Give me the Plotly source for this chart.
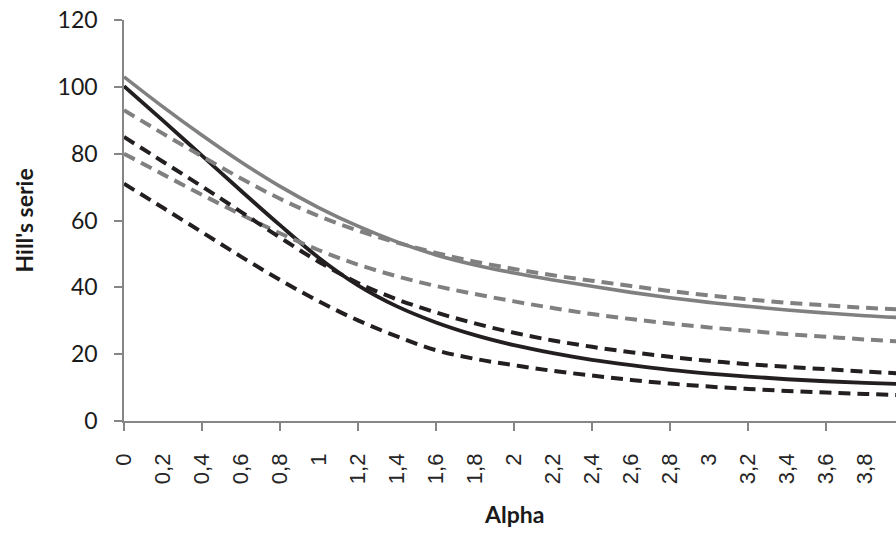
import plotly.graph_objects as go

# ---------------- data ----------------
alpha = [0.0, 0.2, 0.4, 0.6, 0.8, 1.0, 1.2, 1.4, 1.6, 1.8, 2.0,
         2.2, 2.4, 2.6, 2.8, 3.0, 3.2, 3.4, 3.6, 3.8, 4.0]
tick_labels = ["0", "0,2", "0,4", "0,6", "0,8", "1", "1,2", "1,4", "1,6", "1,8", "2",
               "2,2", "2,4", "2,6", "2,8", "3", "3,2", "3,4", "3,6", "3,8", "4"]

gray_solid = [103.0, 94.0, 85.5, 77.5, 70.2, 63.8, 58.3, 53.6, 49.7, 46.7, 44.3,
              42.2, 40.3, 38.5, 36.9, 35.5, 34.3, 33.2, 32.3, 31.5, 30.9]
gray_dash_upper = [93.0, 86.0, 79.2, 72.6, 66.5, 61.3, 57.0, 53.4, 50.3, 47.7, 45.5,
                   43.6, 42.0, 40.4, 38.9, 37.6, 36.4, 35.4, 34.6, 33.9, 33.3]
gray_dash_lower = [80.0, 73.8, 67.7, 61.8, 56.2, 51.1, 46.8, 43.3, 40.4, 38.0, 35.8,
                   33.8, 32.0, 30.5, 29.2, 28.0, 27.0, 26.0, 25.2, 24.4, 23.7]
black_solid = [100.2, 89.9, 79.4, 68.9, 58.6, 48.8, 40.6, 34.3, 29.5, 25.7, 22.7,
               20.3, 18.3, 16.7, 15.3, 14.2, 13.3, 12.5, 11.9, 11.4, 11.0]
black_dash_upper = [85.0, 77.6, 70.2, 62.6, 54.9, 47.6, 41.3, 36.4, 32.5, 29.2, 26.4,
                    24.1, 22.2, 20.6, 19.2, 18.0, 17.0, 16.2, 15.5, 14.8, 14.2]
black_dash_lower = [71.0, 63.8, 56.5, 49.2, 42.2, 35.8, 30.1, 25.3, 21.2, 18.6, 16.7,
                    15.0, 13.6, 12.3, 11.2, 10.3, 9.6, 9.0, 8.5, 8.1, 7.7]

# ---------------- style ----------------
GRAY = "#808080"
BLACK = "#231f20"
AXIS = "#868686"
DASH = "12px,7px"

series = [
    (gray_solid, GRAY, "solid", 3.6),
    (black_solid, BLACK, "solid", 3.8),
    (gray_dash_upper, GRAY, DASH, 4.0),
    (gray_dash_lower, GRAY, DASH, 4.0),
    (black_dash_upper, BLACK, DASH, 4.0),
    (black_dash_lower, BLACK, DASH, 4.0),
]

fig = go.Figure()
for vals, color, dash, lw in series:
    fig.add_trace(go.Scatter(
        x=alpha, y=vals, mode="lines",
        line=dict(color=color, width=lw, dash=dash, shape="spline", smoothing=1.0),
        showlegend=False, hoverinfo="skip"))

W, H = 896, 533
L, R, T, B = 124, 0, 20, 112
plot_w = W - L - R
px_per_unit = 195.0  # 39 px per 0.2 step

fig.update_layout(
    width=W, height=H,
    margin=dict(l=L, r=R, t=T, b=B),
    plot_bgcolor="white", paper_bgcolor="white",
    showlegend=False,
)

fig.update_xaxes(
    range=[0, plot_w / px_per_unit],
    tickmode="array", tickvals=alpha, ticktext=tick_labels,
    tickangle=-90, ticks="",
    showline=True, linecolor=AXIS, linewidth=1.5,
    showgrid=False, zeroline=False,
    tickfont=dict(family="Liberation Sans, Arial, sans-serif", size=22, color="#262626"),
    ticklabelstandoff=22,
    minor=dict(ticks="outside", ticklen=8, tickwidth=1.5, tickcolor=AXIS,
               tick0=0, dtick=0.4, showgrid=False),
)

fig.update_yaxes(
    range=[0, 120], tickmode="array", tickvals=[0, 20, 40, 60, 80, 100, 120],
    ticks="outside", ticklen=8, tickwidth=1.5, tickcolor=AXIS,
    showline=True, linecolor=AXIS, linewidth=1.5,
    showgrid=False, zeroline=False,
    tickfont=dict(family="Lato, sans-serif", size=23, color="#1a1a1a"),
    ticklabelstandoff=12,
)

fig.add_annotation(
    text="<b>Hill's serie</b>", textangle=-90, showarrow=False,
    xref="paper", yref="paper", x=(23 - L) / plot_w, y=0.5,
    xanchor="center", yanchor="middle",
    font=dict(family="Lato, sans-serif", size=23, color="#1a1a1a"),
)
fig.add_annotation(
    text="<b>Alpha</b>", showarrow=False,
    xref="paper", yref="paper", x=(514 - L) / plot_w, y=(H - B - 514) / (H - T - B),
    xanchor="center", yanchor="middle",
    font=dict(family="Lato, sans-serif", size=23, color="#1a1a1a"),
)

fig.write_html("out.html")
